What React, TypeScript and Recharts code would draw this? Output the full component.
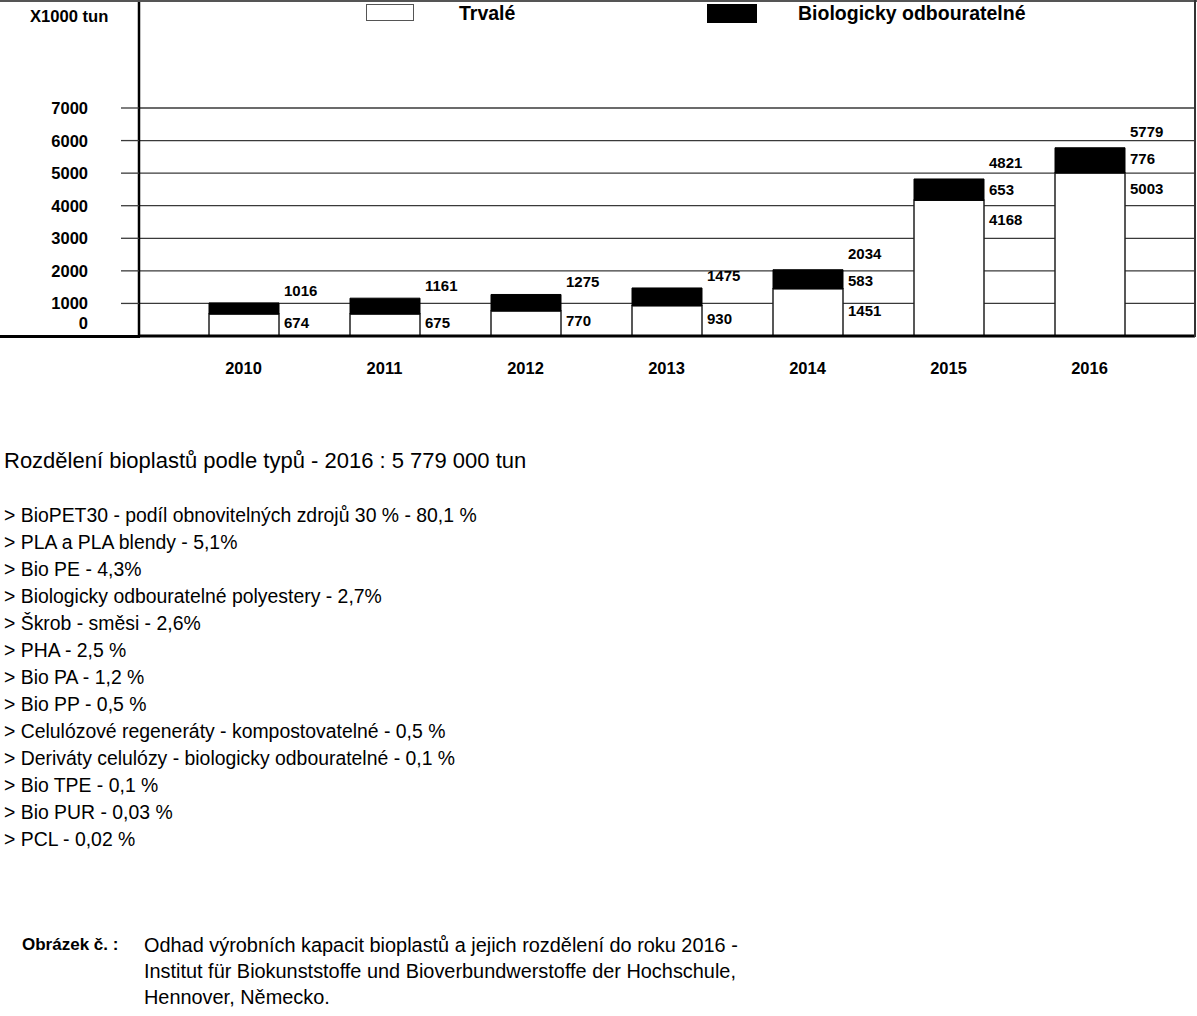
import React from 'react'
import { BarChart, Bar, XAxis, YAxis, CartesianGrid, LabelList } from 'recharts'

const FONT = "'Liberation Sans', Arial, Helvetica, sans-serif"

// capacities in thousands of tonnes
const YEARS = ['2010', '2011', '2012', '2013', '2014', '2015', '2016']
const TRVALE = [674, 675, 770, 930, 1451, 4168, 5003]
const BIO = [342, 486, 505, 545, 583, 653, 776]
const TOTALS = [1016, 1161, 1275, 1475, 2034, 4821, 5779]
// years where both parts of the bar get their own label
const SPLIT_YEARS = ['2014', '2015', '2016']
const Y_TICKS = [0, 1000, 2000, 3000, 4000, 5000, 6000, 7000]

const TITLE = 'Rozdělení bioplastů podle typů - 2016 : 5 779 000 tun'
const TYPES = [
    '> BioPET30 - podíl obnovitelných zdrojů 30 % - 80,1 %',
    '> PLA a PLA blendy - 5,1%',
    '> Bio PE - 4,3%',
    '> Biologicky odbouratelné polyestery - 2,7%',
    '> Škrob - směsi - 2,6%',
    '> PHA - 2,5 %',
    '> Bio PA - 1,2 %',
    '> Bio PP - 0,5 %',
    '> Celulózové regeneráty - kompostovatelné - 0,5 %',
    '> Deriváty celulózy - biologicky odbouratelné - 0,1 %',
    '> Bio TPE - 0,1 %',
    '> Bio PUR - 0,03 %',
    '> PCL - 0,02 %',
]
const CAPTION_LABEL = 'Obrázek č. :'
const CAPTION = [
    'Odhad výrobních kapacit bioplastů a jejich rozdělení do roku 2016 -',
    'Institut für Biokunststoffe und Bioverbundwerstoffe der Hochschule,',
    'Hennover, Německo.',
]

const data = YEARS.map((year, i) => ({ year, trvale: TRVALE[i], bio: BIO[i] }))

const labelStyle = { fontFamily: FONT, fontSize: 15, fontWeight: 700, fill: '#000' }

const renderBarLabels = (props: any) => {
    const i = YEARS.indexOf(String(props.value))
    if (i < 0) return null
    const x = Number(props.x) + Number(props.width) + 5
    const top = Number(props.y)
    const pxPerUnit = Number(props.height) / BIO[i]
    const whiteMid = top + Number(props.height) + (TRVALE[i] * pxPerUnit) / 2
    if (SPLIT_YEARS.includes(YEARS[i])) {
        const totalY = top - 16
        return (
            <g>
                <text x={x} y={totalY} dy={5} style={labelStyle}>{TOTALS[i]}</text>
                <text x={x} y={totalY + 27} dy={5} style={labelStyle}>{BIO[i]}</text>
                <text x={x} y={totalY + 57} dy={5} style={labelStyle}>{TRVALE[i]}</text>
            </g>
        )
    }
    return (
        <g>
            <text x={x} y={top - 12} dy={5} style={labelStyle}>{TOTALS[i]}</text>
            <text x={x} y={whiteMid - 2} dy={5} style={labelStyle}>{TRVALE[i]}</text>
        </g>
    )
}

const YTick = (props: any) => {
    const v = props.payload.value
    const y = v === 0 ? props.y - 13 : props.y
    return (
        <text x={88} y={y} dy={6} textAnchor="end" style={{ fontFamily: FONT, fontSize: 16.5, fontWeight: 700, fill: '#000' }}>
            {v}
        </text>
    )
}

const XTick = (props: any) => (
    <text x={props.x} y={374} textAnchor="middle" style={{ fontFamily: FONT, fontSize: 16.5, fontWeight: 700, fill: '#000' }}>
        {props.payload.value}
    </text>
)

export default function App() {
    return (
        <div style={{ position: 'relative', width: 1197, height: 1016, fontFamily: FONT, color: '#000', background: '#fff' }}>
            <style>{'body{margin:0;background:#fff}'}</style>

            <BarChart width={1197} height={390} data={data} margin={{ top: 1, right: 2, left: 0, bottom: 0 }} barSize={70}>
                <CartesianGrid vertical={false} stroke="#3a3a3a" strokeWidth={1.3} />
                <YAxis
                    width={139}
                    domain={[0, 10285]}
                    ticks={Y_TICKS}
                    interval={0}
                    axisLine={{ stroke: '#000', strokeWidth: 2.5 }}
                    tickLine={{ stroke: '#3a3a3a', strokeWidth: 1.3 }}
                    tickSize={18}
                    tick={<YTick />}
                />
                <XAxis
                    dataKey="year"
                    height={54}
                    padding={{ left: 34, right: 35 }}
                    axisLine={{ stroke: '#000', strokeWidth: 3 }}
                    tickLine={false}
                    interval={0}
                    tick={<XTick />}
                />
                <Bar dataKey="trvale" stackId="a" fill="#fff" stroke="#222" strokeWidth={1.5} isAnimationActive={false} />
                <Bar dataKey="bio" stackId="a" fill="#000" stroke="#000" strokeWidth={1} isAnimationActive={false}>
                    <LabelList dataKey="year" content={renderBarLabels} />
                </Bar>
            </BarChart>

            {/* frame pieces round the plot */}
            <div style={{ position: 'absolute', left: 0, top: 0, width: 1197, height: 2, background: '#555' }} />
            <div style={{ position: 'absolute', left: 1194, top: 0, width: 2, height: 337, background: '#333' }} />
            <div style={{ position: 'absolute', left: 0, top: 335, width: 140, height: 3, background: '#000' }} />

            <div style={{ position: 'absolute', left: 30, top: 7, fontSize: 16.6, fontWeight: 700, lineHeight: '20px' }}>X1000 tun</div>

            {/* legend */}
            <div style={{ position: 'absolute', left: 366, top: 4, width: 46, height: 15, border: '1px solid #555', background: '#fff' }} />
            <div style={{ position: 'absolute', left: 459, top: 3, fontSize: 19.5, fontWeight: 700, lineHeight: '20px' }}>Trvalé</div>
            <div style={{ position: 'absolute', left: 707, top: 4, width: 50, height: 19, background: '#000' }} />
            <div style={{ position: 'absolute', left: 798, top: 3, fontSize: 19.5, fontWeight: 700, lineHeight: '20px' }}>Biologicky odbouratelné</div>

            <div style={{ position: 'absolute', left: 4, top: 448, fontSize: 22, lineHeight: '26px' }}>{TITLE}</div>
            <div style={{ position: 'absolute', left: 4, top: 502, fontSize: 19.4, lineHeight: '27px' }}>
                {TYPES.map(t => (
                    <div key={t}>{t}</div>
                ))}
            </div>

            <div style={{ position: 'absolute', left: 22, top: 935, fontSize: 17, fontWeight: 700, lineHeight: '20px' }}>{CAPTION_LABEL}</div>
            <div style={{ position: 'absolute', left: 144, top: 932, fontSize: 19.9, lineHeight: '26px' }}>
                {CAPTION.map(c => (
                    <div key={c}>{c}</div>
                ))}
            </div>
        </div>
    )
}
